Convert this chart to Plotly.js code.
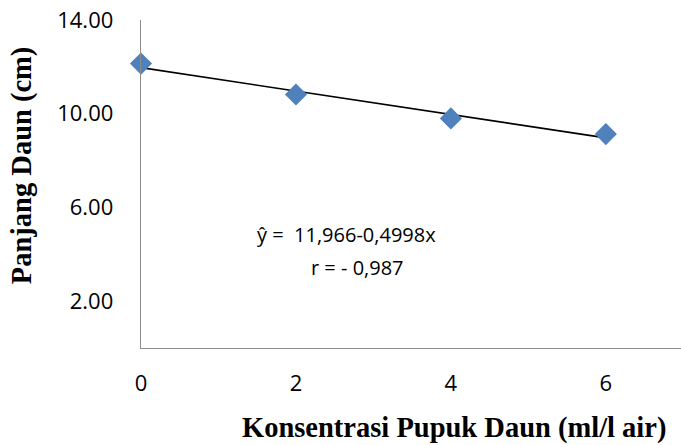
<!DOCTYPE html>
<html>
<head>
<meta charset="utf-8">
<script src="https://cdn.plot.ly/plotly-3.0.1.min.js"></script>
<style>
  html, body { margin: 0; padding: 0; background: #fff; }
  #chart { width: 681px; height: 445px; }
</style>
</head>
<body>
<div id="chart"></div>
<script>
// Data
const konsentrasi = [0, 2, 4, 6];
const panjangDaun = [12.14, 10.82, 9.80, 9.13];
const trendX = [0, 6];
const intercept = 11.966;
const slope = -0.4998;
const trendY = trendX.map(x => intercept + slope * x);
const xTicks = [0, 2, 4, 6];
const xTickLabels = ['0', '2', '4', '6'];
const yTicks = [2, 6, 10, 14];
const yTickLabels = ['2.00', '6.00', '10.00', '14.00'];
const eqLine1 = 'ŷ =  11,966-0,4998x';
const eqLine2 = 'r = - 0,987';
const xTitle = 'Konsentrasi Pupuk Daun (ml/l air)';
const yTitle = 'Panjang Daun (cm)';

const tickFont = { family: 'Open Sans, Liberation Sans, sans-serif', size: 22, color: '#000' };
const titleFont = { family: 'Liberation Serif, Times New Roman, serif', size: 28.5, color: '#000' };

const traces = [
  {
    x: trendX, y: trendY, type: 'scatter', mode: 'lines',
    line: { color: '#000', width: 1.6 }, hoverinfo: 'skip', showlegend: false
  },
  {
    x: konsentrasi, y: panjangDaun, type: 'scatter', mode: 'markers',
    marker: { symbol: 'diamond', size: 17, color: '#4F81BD', line: { width: 0 } },
    showlegend: false, cliponaxis: false
  }
];

const layout = {
  width: 681, height: 445,
  margin: { l: 141, r: 0, t: 20, b: 97 },
  paper_bgcolor: '#fff', plot_bgcolor: '#fff',
  showlegend: false,
  xaxis: {
    range: [0, 6.97], showgrid: false, zeroline: false,
    showline: true, linecolor: '#8c8c8c', linewidth: 1.3,
    tickvals: xTicks, ticktext: xTickLabels, ticks: '',
    ticklabelstandoff: 15, tickfont: tickFont, fixedrange: true
  },
  yaxis: {
    range: [0, 14], showgrid: false, zeroline: false,
    showline: true, linecolor: '#8c8c8c', linewidth: 1.3,
    tickvals: yTicks, ticktext: yTickLabels, ticks: '',
    ticklabelstandoff: 22, tickfont: tickFont, fixedrange: true
  },
  annotations: [
    { text: eqLine1, xref: 'paper', yref: 'paper', x: 0.381, y: 0.345,
      xanchor: 'center', yanchor: 'middle', showarrow: false,
      font: { family: 'Open Sans, sans-serif', size: 20, color: '#000' } },
    { text: eqLine2, xref: 'paper', yref: 'paper', x: 0.40, y: 0.245,
      xanchor: 'center', yanchor: 'middle', showarrow: false,
      font: { family: 'Open Sans, sans-serif', size: 20, color: '#000' } },
    { text: '<b>' + xTitle + '</b>', xref: 'paper', yref: 'paper',
      x: 0.58, y: -0.243, xanchor: 'center', yanchor: 'middle', showarrow: false,
      font: titleFont },
    { text: '<b>' + yTitle + '</b>', xref: 'paper', yref: 'paper',
      x: -0.22, y: 0.558, xanchor: 'center', yanchor: 'middle', showarrow: false,
      textangle: -90, font: titleFont }
  ]
};

Plotly.newPlot('chart', traces, layout, { displayModeBar: false, staticPlot: true });
</script>
</body>
</html>
